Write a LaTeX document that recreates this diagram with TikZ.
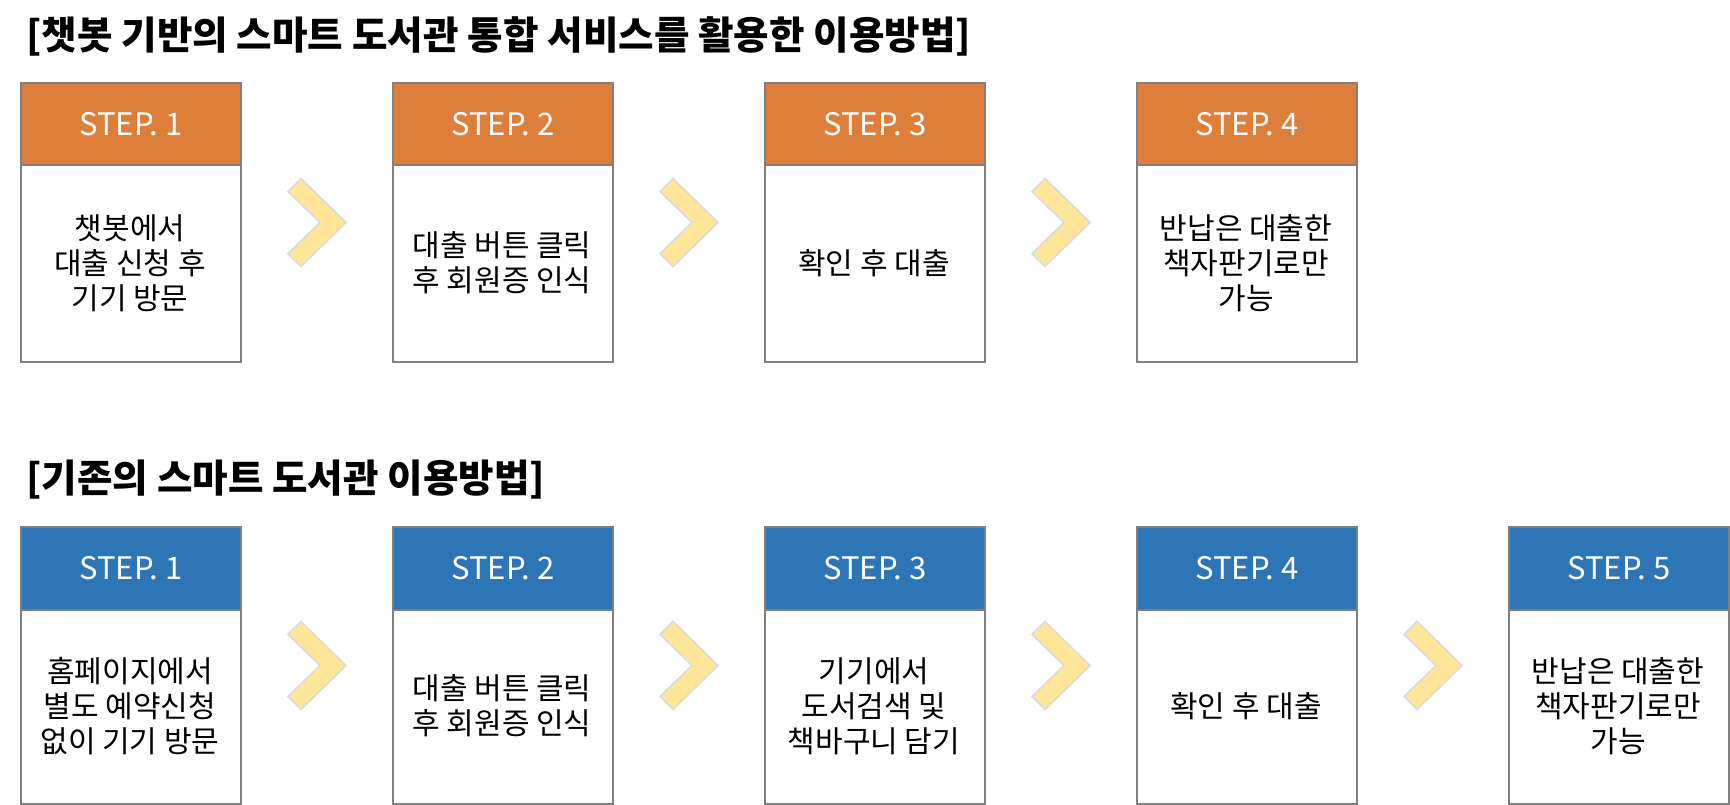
\documentclass[tikz,border=0pt]{standalone}
\usepackage{fontspec}
\setmainfont{Noto Sans CJK KR}
\definecolor{hdrorange}{HTML}{DE7E3B}
\definecolor{hdrblue}{HTML}{2E75B6}
\definecolor{bordergray}{HTML}{808080}
\definecolor{chevfill}{HTML}{FFE699}
\definecolor{chevline}{HTML}{D9D9D9}
\tikzset{
  stepbox/.style={draw=bordergray, line width=2pt, minimum width=220pt, inner sep=0pt, anchor=north west},
  hdrbox/.style={draw=bordergray, line width=2pt, minimum width=220pt, inner sep=0pt, anchor=north west, text=white, font=\fontsize{31}{36}\selectfont},
  bodytxt/.style={align=center, font=\fontsize{30}{35}\selectfont, text=black},
  title/.style={anchor=base west, inner sep=0pt, font=\fontsize{38.6}{44}\selectfont\bfseries},
  chev/.style={fill=chevfill, draw=chevline, line width=1.5pt, line join=miter}
}
\newcommand{\chevronat}[1]{%
  \draw[chev] ([shift={(29,0)}]#1) -- ++(-45,-44) -- ++(-13,13) -- ++(32,31) -- ++(-32,31) -- ++(13,13) -- cycle;}
\begin{document}
\begin{tikzpicture}[x=1pt,y=-1pt]
\useasboundingbox (0,0) rectangle (1730,805);
% titles
\node[title] (t1) at (26,50) {[챗봇 기반의 스마트 도서관 통합 서비스를 활용한 이용방법]};
\node[title] (t2) at (26,492) {[기존의 스마트 도서관 이용방법]};
% top row
\foreach \i/\txt in {1/{챗봇에서\\대출 신청 후\\기기 방문},2/{대출 버튼 클릭\\후 회원증 인식},3/{확인 후 대출},4/{반납은 대출한\\책자판기로만\\가능}}{
  \pgfmathsetmacro{\xx}{20+372*(\i-1)}
  \node[stepbox, minimum height=279pt] (a\i) at (\xx,82) {};
  \node[hdrbox, fill=hdrorange, minimum height=82pt] (ah\i) at (\xx,82) {STEP. \i};
  \node[bodytxt] (at\i) at (\xx+110,263) {\txt};
}
% bottom row
\foreach \i/\txt in {1/{홈페이지에서\\별도 예약신청\\없이 기기 방문},2/{대출 버튼 클릭\\후 회원증 인식},3/{기기에서\\도서검색 및\\책바구니 담기},4/{확인 후 대출},5/{반납은 대출한\\책자판기로만\\가능}}{
  \pgfmathsetmacro{\xx}{20+372*(\i-1)}
  \node[stepbox, minimum height=277pt] (b\i) at (\xx,526) {};
  \node[hdrbox, fill=hdrblue, minimum height=83pt] (bh\i) at (\xx,526) {STEP. \i};
  \node[bodytxt] (bt\i) at (\xx+110,706) {\txt};
}
% chevrons
\foreach \i/\j in {1/2,2/3,3/4}{
  \path (a\i.east) -- (a\j.west) coordinate[midway] (ca\i);
  \chevronat{ca\i}
}
\foreach \i/\j in {1/2,2/3,3/4,4/5}{
  \path (b\i.east) -- (b\j.west) coordinate[midway] (cb\i);
  \chevronat{cb\i}
}
\end{tikzpicture}
\end{document}
